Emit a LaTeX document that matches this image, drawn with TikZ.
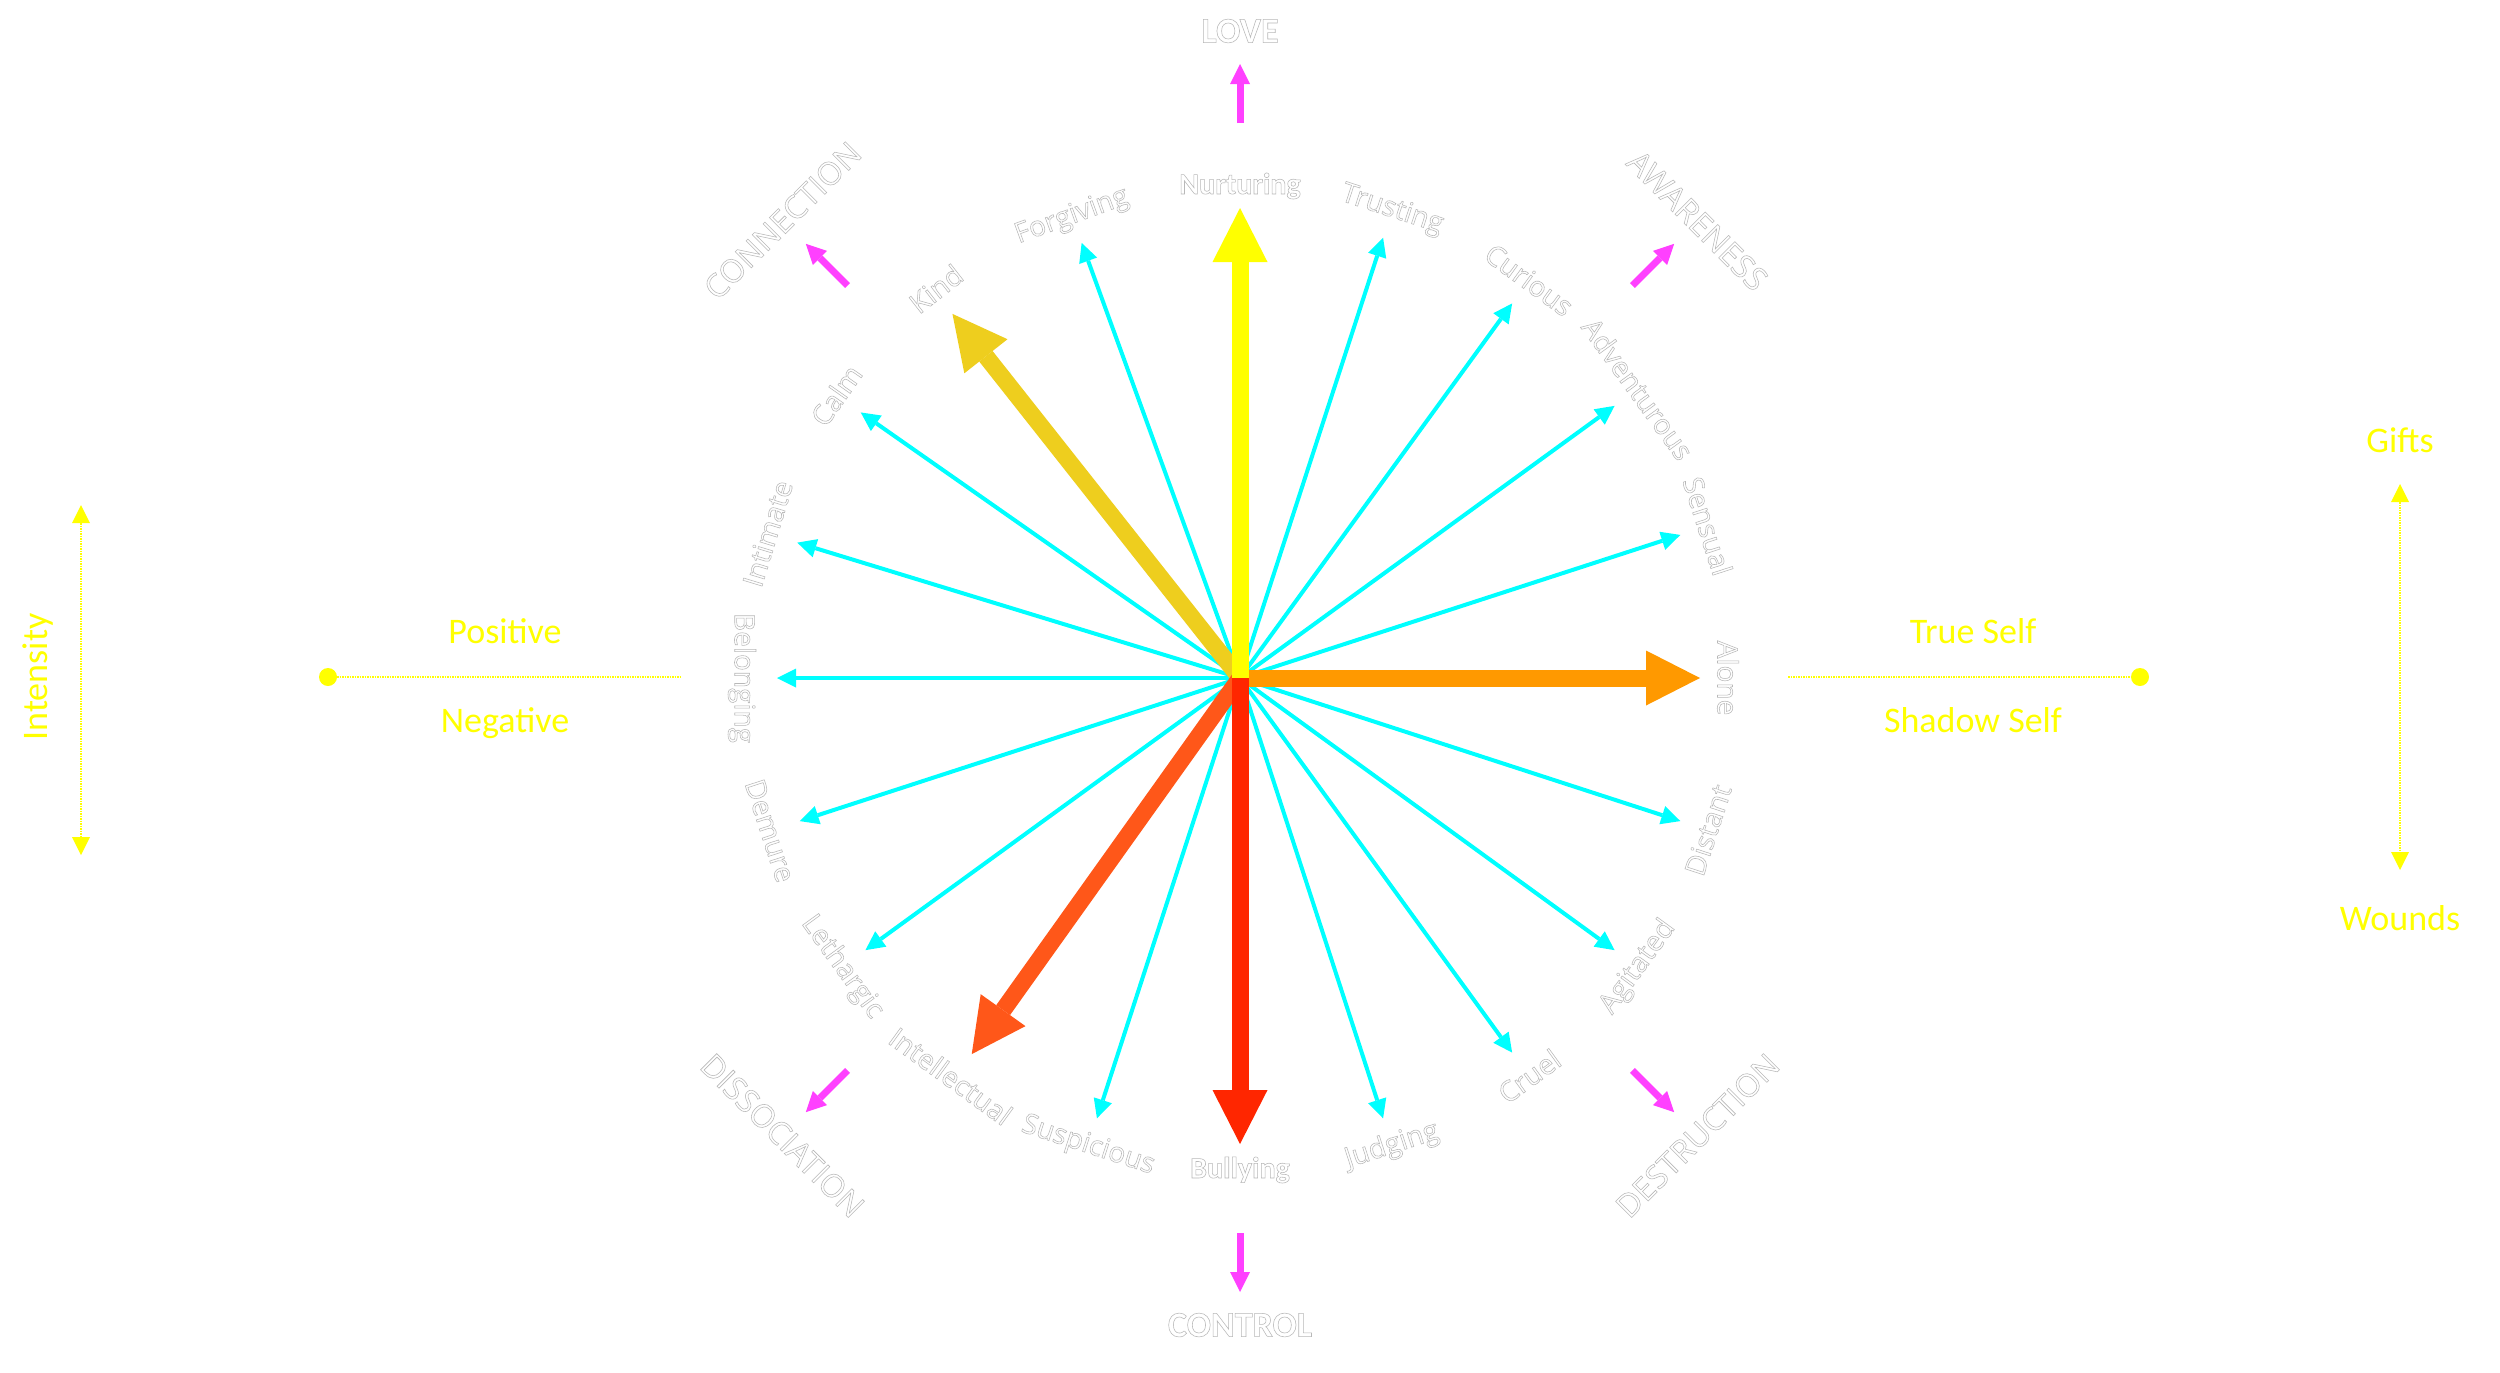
\documentclass[tikz,border=0pt]{standalone}
\usepackage{fontspec}
\usetikzlibrary{arrows.meta,calc}
\newfontfamily\osans{Open Sans}
\newfontfamily\carl{Carlito}
\definecolor{cyanA}{RGB}{0,255,255}
\definecolor{magA}{RGB}{255,64,255}
\definecolor{yelA}{RGB}{255,255,0}
\definecolor{goldA}{RGB}{238,206,30}
\definecolor{orA}{RGB}{255,153,0}
\definecolor{orrA}{RGB}{255,87,25}
\definecolor{redA}{RGB}{255,38,0}
% white text with a faint grey outline (fill + stroke text rendering mode)
\newcommand\ghosttext[1]{\special{pdf:literal direct 0.72 G 0.55 w 2 Tr}#1\special{pdf:literal direct 0 Tr}}
\tikzset{
  feel/.style={text=white, font=\osans\fontsize{28}{30}\selectfont, inner sep=0pt},
  feelB/.style={text=white, font=\carl\bfseries\fontsize{30}{32}\selectfont, inner sep=0pt},
  realm/.style={text=white, font=\osans\fontsize{32}{34}\selectfont, inner sep=0pt},
  realmB/.style={text=white, font=\carl\bfseries\fontsize{36}{38}\selectfont, inner sep=0pt},
  ylabel/.style={text=yelA, font=\carl\fontsize{36}{38}\selectfont, inner sep=0pt},
  thinarrow/.style={draw=cyanA, line width=4pt, -{Triangle[length=19pt,width=19pt,line width=0pt]}},
  thickarrow/.style={line width=17pt, -{Triangle[length=54pt,width=55pt,line width=0pt]}},
  magarrow/.style={draw=magA, line width=7pt, -{Triangle[length=20pt,width=20pt,line width=0pt]}},
  dotline/.style={draw=yelA, line width=1.5pt, dash pattern=on 1.5pt off 1pt},
  ydot/.style={circle, fill=yelA, minimum size=18pt, inner sep=0pt}
}
\begin{document}
\begin{tikzpicture}[x=1pt,y=1pt]
\useasboundingbox (0,0) rectangle (2500,-1373);
\fill[white] (0,0) rectangle (2500,-1373);
\coordinate (c) at (1240,-678);

% feeling labels around the circle (angle / radius / rotation / text / style)
\foreach \a/\d/\r/\t/\s in {90/492/0/Nurturing/feelB, 72/492/-18/Trusting/feel, 54/492/-36/Curious/feel,
  36/492/-54/Adventurous/feel, 18/492/-72/Sensual/feel, 0/488/-90/Alone/feel, 342/492/72/Distant/feel,
  324/492/54/Agitated/feel, 306/492/36/Cruel/feel, 288/492/18/Judging/feel, 270/492/0/Bullying/feelB,
  252/492/-18/Suspicious/feel, 234/492/-36/Intellectual/feel, 216/492/-54/Lethargic/feel,
  198/494/-72/Demure/feel, 180/498/-90/Belonging/feel, 163/494/73/Intimate/feel,
  145/493/55/Calm/feel, 128/494/38/Kind/feel, 110/491/20/Forgiving/feel} {
  \node[\s, rotate=\r] (f\a) at ($(c)+(\a:\d)$) {\ghosttext{\t}};
}

% realm labels
\foreach \a/\r/\t/\s in {90/0/LOVE/realmB, 45/-45/AWARENESS/realm, 135/45/CONNECTION/realm,
  225/-45/DISSOCIATION/realm, 315/45/DESTRUCTION/realm, 270/0/CONTROL/realmB} {
  \node[\s, rotate=\r] (r\a) at ($(c)+(\a:647)$) {\ghosttext{\t}};
}

% magenta arrows
\foreach \a in {45,90,135,225,270,315} {
  \coordinate (ms\a) at ($(c)+(\a:555)$);
  \coordinate (me\a) at ($(c)+(\a:614)$);
  \draw[magarrow] (ms\a) -- (me\a);
}

% cyan arrows
\foreach \a in {72,54,36,18,342,324,306,288,252,216,198,180,163,145,110} {
  \coordinate (t\a) at ($(c)+(\a:463)$);
  \draw[thinarrow] (c) -- (t\a);
}

% thick arrows
\coordinate (T128) at ($(c)+(128.3:464)$);
\coordinate (T234) at ($(c)+(234.5:462)$);
\coordinate (T0) at ($(c)+(0:460)$);
\coordinate (T270) at ($(c)+(270:466)$);
\coordinate (T90) at ($(c)+(90:470)$);
\draw[thickarrow, draw=goldA] (c) -- (T128);
\draw[thickarrow, draw=orrA] (c) -- (T234);
\draw[thickarrow, draw=orA] (c) -- (T0);
\draw[thickarrow, draw=redA] (c) -- (T270);
\draw[thickarrow, draw=yelA] (c) -- (T90);

% left legend
\coordinate (iTop) at (81,-505);
\coordinate (iBot) at (81,-855);
\draw[dotline, {Triangle[length=18pt,width=18pt,line width=0pt]}-{Triangle[length=18pt,width=18pt,line width=0pt]}] (iTop) -- (iBot);
\node[ylabel, rotate=90] (intensity) at (38,-677) {Intensity};
\node[ydot] (pdot) at (328,-677) {};
\coordinate (pend) at (681,-677);
\draw[dotline] (pdot) -- (pend);
\node[ylabel, anchor=base] (pos) at (505,-643) {Positive};
\node[ylabel, anchor=base] (neg) at (505,-732) {Negative};

% right legend
\node[ydot] (sdot) at (2140,-677) {};
\coordinate (send) at (1788,-677);
\draw[dotline] (send) -- (sdot);
\node[ylabel, anchor=base] (trueself) at (1973,-643) {True Self};
\node[ylabel, anchor=base] (shadow) at (1973,-732) {Shadow Self};
\coordinate (gTop) at (2400,-484);
\coordinate (gBot) at (2400,-870);
\draw[dotline, {Triangle[length=18pt,width=18pt,line width=0pt]}-{Triangle[length=18pt,width=18pt,line width=0pt]}] (gTop) -- (gBot);
\node[ylabel] (gifts) at (2400,-440) {Gifts};
\node[ylabel] (wounds) at (2400,-918) {Wounds};
\end{tikzpicture}
\end{document}
